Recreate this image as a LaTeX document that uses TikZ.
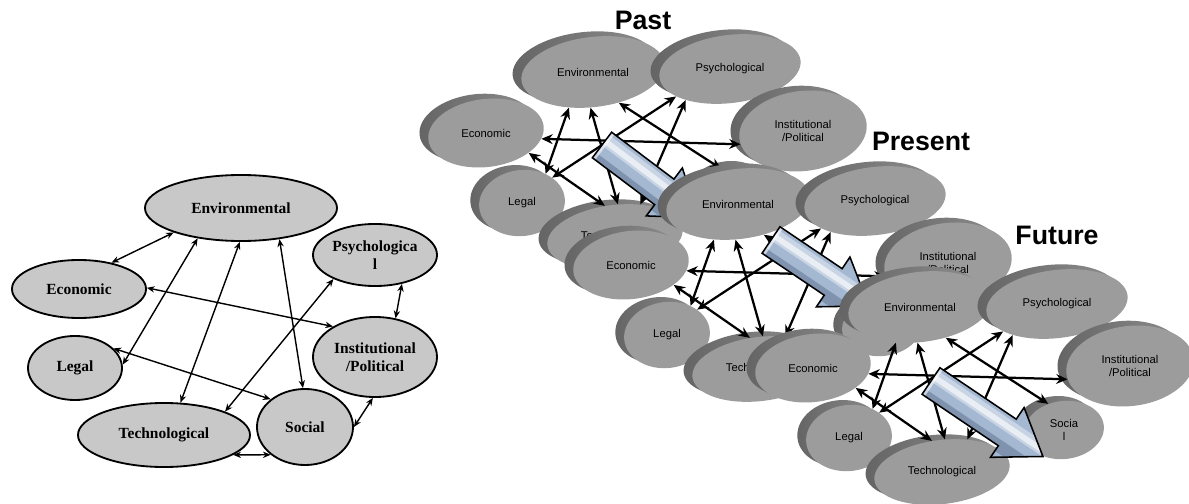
\documentclass[tikz,border=0pt]{standalone}
\usepackage{fontspec}
\setmainfont{Liberation Serif}
\newfontfamily\sansfnt{Liberation Sans}
\usetikzlibrary{arrows.meta,shadows,shapes.geometric}
\definecolor{leftgray}{RGB}{200,200,200}
\definecolor{facegray}{RGB}{156,156,156}
\definecolor{lipdark}{RGB}{100,100,100}
\definecolor{liplight}{RGB}{142,142,142}
\definecolor{arrowblue}{RGB}{164,184,210}
\definecolor{arrowdeep}{RGB}{112,132,160}
\tikzset{
  ell/.style 2 args={ellipse, draw, line width=1.3pt, fill=leftgray, inner sep=0pt,
    minimum width=#1*0.05cm, minimum height=#2*0.05cm},
  ltext/.style={font=\bfseries\fontsize{11}{13}\selectfont, align=center},
  link/.style={<->, >={Stealth[length=5.5pt,width=4.5pt]}, line width=1pt},
  disk/.style 2 args={ellipse, fill=facegray, inner sep=0pt, rotate=7,
    minimum width=#1*0.05cm, minimum height=#2*0.05cm,
    general shadow={shadow xshift=-0.22cm, shadow yshift=0.12cm, left color=lipdark, right color=liplight}},
  dtext/.style={font=\sansfnt\fontsize{8}{9.5}\selectfont, align=center},
  dlink/.style={<->, >={Stealth[length=8pt,width=7pt]}, line width=1.6pt},
  stagetitle/.style={font=\sansfnt\bfseries\fontsize{19}{21}\selectfont}
}
\begin{document}
\begin{tikzpicture}[x=0.025cm,y=-0.025cm]
\useasboundingbox (0,0) rectangle (1189,504);
\node[ell={96}{33}, label={[ltext]center:Environmental}] (env) at (241,208) {};
\node[ell={67}{29}, label={[ltext]center:Economic}] (eco) at (79,289) {};
\node[ell={47}{32}, label={[ltext]center:Legal}] (leg) at (75,368) {};
\node[ell={86}{32}, label={[ltext]center:Technological}] (tec) at (164,435) {};
\node[ell={48}{38}, label={[ltext]center:Social}] (soc) at (305,427) {};
\node[ell={62}{31}, label={[ltext]center:Psychologica\\l}] (psy) at (375,255) {};
\node[ell={62}{40}, label={[ltext]center:Institutional\\/Political}] (ins) at (375,357) {};
\draw[link] (env.200) -- (eco.39);
\draw[link] (env.215) -- (leg.4);
\draw[link] (env.268) -- (tec.63);
\draw[link] (env.321) -- (soc.93);
\draw[link] (eco.1) -- (ins.144);
\draw[link] (leg.27) -- (soc.141);
\draw[link] (psy.210) -- (tec.21);
\draw[link] (psy.313) -- (ins.62);
\draw[link] (soc.0) -- (ins.267);
\draw[link] (tec.344) -- (soc.219);
\foreach \l/\sx/\sy/\ax/\ay/\ang/\len in {a/0/0/602/145/-37/121, b/145/132/771/240/-34/118, c/327/235/931/381/-34/135}{
\begin{scope}[shift={(\sx,\sy)}]
\node[disk={72}{35}, label={[dtext]center:Environmental}] (env\l) at (593,72) {};
\node[disk={71}{34}, label={[dtext]center:Psychological}] (psy\l) at (730,69) {};
\node[disk={64}{40}, label={[dtext]center:Institutional\\/Political}] (ins\l) at (803,131) {};
\node[disk={58}{34}, label={[dtext]center:Economic}] (eco\l) at (486,133) {};
\node[disk={43}{33}, label={[dtext]center:Legal}] (leg\l) at (522,203) {};
\node[disk={68}{32}, label={[dtext]center:Technological}] (tec\l) at (615,237) {};
\node[disk={40}{29}, label={[dtext]center:Socia\\l}] (soc\l) at (737,195) {};
\end{scope}
\draw[dlink] (eco\l.347) -- (ins\l.185);
\draw[dlink] (env\l.229) -- (leg\l.44);
\draw[dlink] (env\l.259) -- (tec\l.78);
\draw[dlink] (env\l.303) -- (soc\l.114);
\draw[dlink] (psy\l.200) -- (leg\l.33);
\draw[dlink] (psy\l.208) -- (tec\l.45);
\draw[dlink] (eco\l.328) -- (tec\l.101);
\pgfmathsetmacro\hb{\len-43}
\begin{scope}[shift={(\ax,\ay)}, rotate=\ang]
\fill[arrowblue] (0,-16) -- (\hb,-16) -- (\hb,-30) -- (\len,0) -- (\hb,30) -- (\hb,16) -- (0,16) -- cycle;
\begin{scope}
\clip (0,-16) -- (\hb,-16) -- (\hb,-30) -- (\len,0) -- (\hb,30) -- (\hb,16) -- (0,16) -- cycle;
\draw[arrowdeep, opacity=.7, line width=9pt] (-5,16) -- (\len,16);
\draw[white, opacity=.4, line width=9pt] (-5,-6) -- (\len,-6);
\draw[white, opacity=.6, line width=4pt] (-5,-5) -- (\len,-5);
\draw[white, opacity=.6, line width=5pt] (0,-16) -- (0,16);
\end{scope}
\draw[line width=1.1pt] (0,-16) -- (\hb,-16) -- (\hb,-30) -- (\len,0) -- (\hb,30) -- (\hb,16) -- (0,16) -- cycle;
\end{scope}
}
\node[stagetitle] (past) at (643,20) {Past};
\node[stagetitle] (present) at (921,141) {Present};
\node[stagetitle] (future) at (1057,235) {Future};
\end{tikzpicture}
\end{document}
